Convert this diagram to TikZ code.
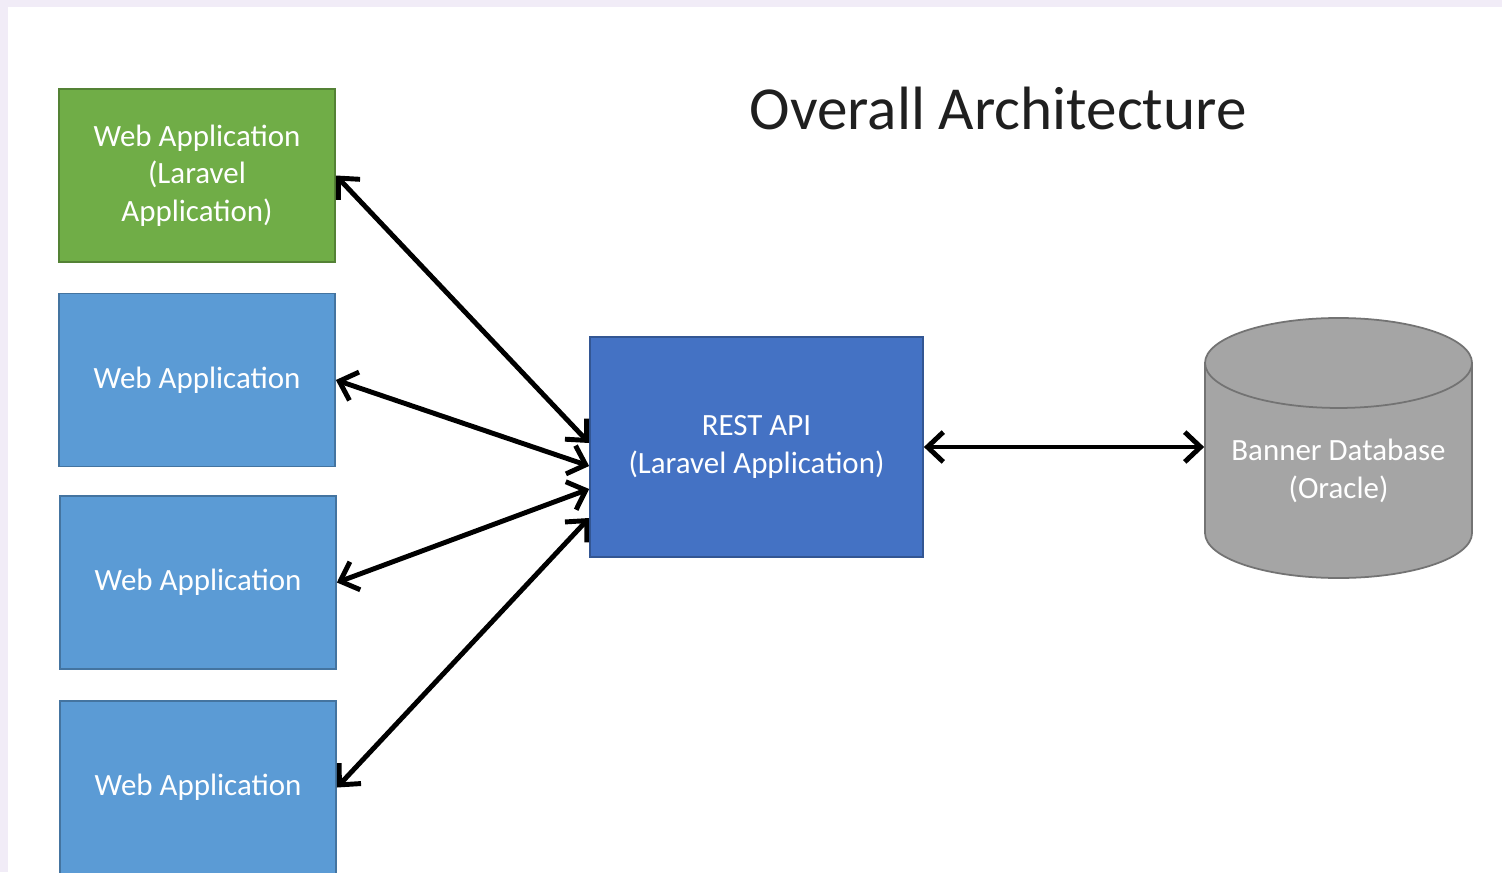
\documentclass[tikz,border=0pt]{standalone}
\usepackage{fontspec}
\setmainfont{Carlito}
\usetikzlibrary{arrows.meta,shapes.geometric}
\definecolor{appgreen}{HTML}{70AD47}
\definecolor{appblue}{HTML}{5B9BD5}
\definecolor{apiblue}{HTML}{4472C4}
\definecolor{dbgrey}{HTML}{A5A5A5}
\definecolor{frame}{HTML}{F1ECF7}
\begin{document}
\begin{tikzpicture}[>={Straight Barb[length=4.5pt,width=8.5pt]},
    box/.style={draw=#1!75!black, fill=#1, line width=0.5pt, text=white,
      minimum width=2.76cm, minimum height=1.73cm, inner sep=0pt, align=center,
      font=\fontsize{8.8}{10.6}\selectfont},
    link/.style={<->, line width=1.4pt, line join=round}]
  \useasboundingbox (0,0) rectangle (15.02,-8.72);
  \clip (0,0) rectangle (15.02,-8.72);
  \fill[frame] (0,0) rectangle (15.02,-8.72);
  \fill[white] (0.08,-0.07) rectangle (15.02,-8.72);

  \node[font=\fontsize{17.4}{20}\selectfont, text=black!88] (title) at (9.98,-1.08) {Overall Architecture};

  % web applications
  \node[box=appgreen] (web1) at (1.97,-1.755) {Web Application\\(Laravel\\Application)};
  \node[box=appblue] (web2) at (1.97,-3.80) {Web Application};
  \node[box=appblue] (web3) at (1.98,-5.825) {Web Application};
  \node[box=appblue] (web4) at (1.98,-7.875) {Web Application};

  \node[box=apiblue, minimum width=3.33cm, minimum height=2.2cm] (rest) at (7.565,-4.47)
    {REST API\\(Laravel Application)};

  \node[cylinder, shape border rotate=90, aspect=0.42, draw=dbgrey!70!black, fill=dbgrey,
    line width=0.5pt, minimum width=2.67cm, minimum height=2.60cm, inner sep=0pt,
    text=white, align=center, font=\fontsize{8.8}{10.6}\selectfont,
    anchor=shape center] (db) at (13.385,-4.48)
    {Banner Database\\(Oracle)};

  \draw[link] (web1.east) -- ([yshift=0.04cm]rest.west);
  \draw[link] (web2.east) -- ([yshift=-0.19cm]rest.west);
  \draw[link] (web3.east) -- ([yshift=-0.42cm]rest.west);
  \draw[link] (web4.east) -- ([yshift=-0.71cm]rest.west);
  \draw[link] (rest.east) -- (rest.east -| db.west);
\end{tikzpicture}
\end{document}
